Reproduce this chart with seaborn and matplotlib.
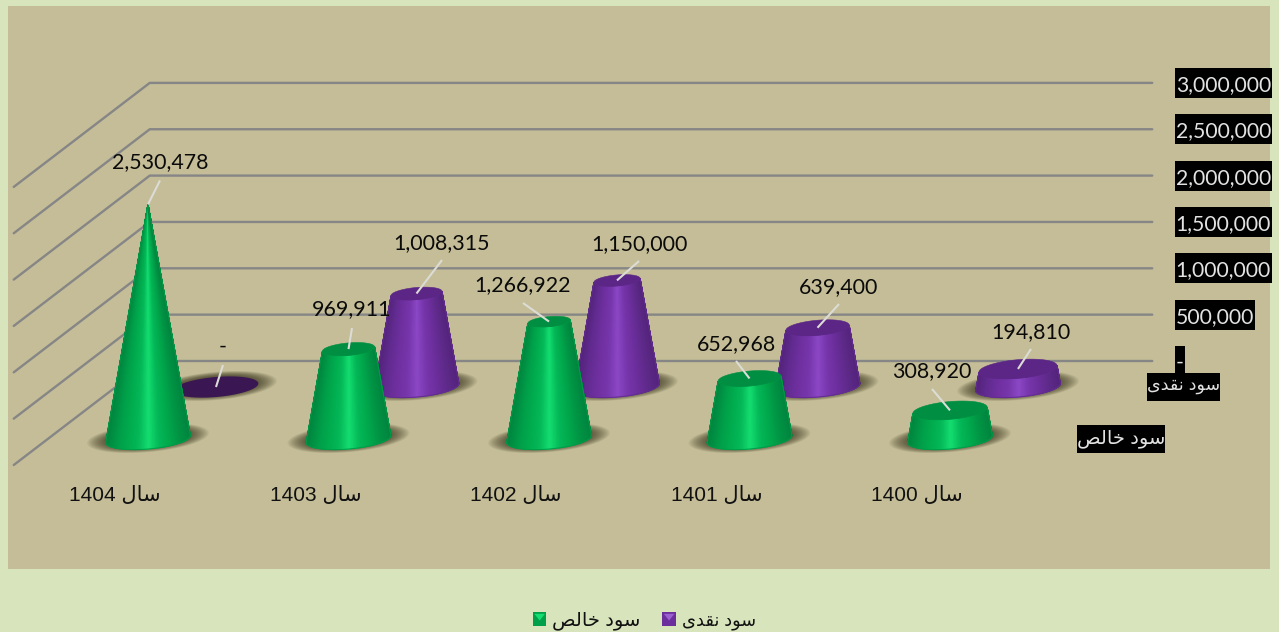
import numpy as np
import pandas as pd
import seaborn as sns
import matplotlib
matplotlib.use("Agg")
import matplotlib.pyplot as plt
from matplotlib.font_manager import FontProperties
from matplotlib.legend_handler import HandlerBase
from matplotlib.patches import Patch, Polygon, Rectangle
from matplotlib.path import Path

# ---------- data ----------
categories = ["سال 1404", "سال 1403", "سال 1402", "سال 1401", "سال 1400"]
net_profit = [2530478, 969911, 1266922, 652968, 308920]
cash_profit = [0, 1008315, 1150000, 639400, 194810]
series_names = ["سود خالص", "سود نقدی"]
value_ticks = [0, 500000, 1000000, 1500000, 2000000, 2500000, 3000000]

# ---------- layout (pixels of the projection) ----------
W, H = 1279, 632
PANEL = (8, 6, 1270, 569)  # left, top, right, bottom
PX_PER_CAT = 200.5
PX_PER_VAL = 92.7e-6
PX_DEPTH = (68.0, 52.0)
ORIGIN = (148.0, 439.0)
R_BASE, FLAT, TILT = 42.5, 10.0 / 42.5, np.radians(5.0)
SHADOW_LIFT_PX = 1.0

net_offsets = [(12, 42, 24), (3.5, 40, 21), (-26, 36.6, 18.6), (-13.5, 34.5, 17.5), (-18, 39.4, 21.4)]
cash_offsets = [(7, 40, 22), (25.5, 50.5, 33.5), (22, 36.4, 19.4), (21.5, 40.7, 23.7), (13, 37, 20)]

GREEN = dict(grad=["#00853f", "#009c48", "#00ac4e", "#04b858", "#14de70", "#04b858", "#00a84c", "#009444", "#00853f"],
             top="#008f42", zero="#005a2a")
PURPLE = dict(grad=["#54247c", "#632c92", "#7030a0", "#7736ac", "#8c48c6", "#7736ac", "#6c2e9c", "#5e2a8a", "#54247c"],
              top="#5b2685", zero="#3a1653")

LABEL_FONT = ["Lato", "DejaVu Sans"]
ARIAL_FONT = ["Liberation Sans", "DejaVu Sans"]

# ---------- Persian shaping for matplotlib's left-to-right text ----------
FORMS = {  # isolated, final, initial, medial
    "س": (0xFEB1, 0xFEB2, 0xFEB3, 0xFEB4), "خ": (0xFEA5, 0xFEA6, 0xFEA7, 0xFEA8),
    "ل": (0xFEDD, 0xFEDE, 0xFEDF, 0xFEE0), "ص": (0xFEB9, 0xFEBA, 0xFEBB, 0xFEBC),
    "ن": (0xFEE5, 0xFEE6, 0xFEE7, 0xFEE8), "ق": (0xFED5, 0xFED6, 0xFED7, 0xFED8),
    "ی": (0xFBFC, 0xFBFD, 0xFBFE, 0xFBFF), "و": (0xFEED, 0xFEEE, None, None),
    "د": (0xFEA9, 0xFEAA, None, None), "ا": (0xFE8D, 0xFE8E, None, None),
}


def shape(text):
    words = []
    for word in text.split(" "):
        if word[0] not in FORMS:
            words.append(word)
            continue
        out = []
        for i, ch in enumerate(word):
            prev_joins = i > 0 and FORMS[word[i - 1]][2] is not None
            next_joins = i < len(word) - 1 and FORMS[ch][2] is not None
            idx = {(False, False): 0, (True, False): 1, (False, True): 2, (True, True): 3}[(prev_joins, next_joins)]
            out.append(chr(FORMS[ch][idx]))
        words.append("".join(reversed(out)))
    return " ".join(reversed(words))


def fixed_box(height, pad_x, shift=0.0):
    """Box style of a fixed pixel height around a text."""
    def style(x0, y0, width, h, mutation_size):
        cy = y0 + h / 2 + shift
        xa, xb = x0 - pad_x, x0 + width + pad_x
        ya, yb = cy - height / 2, cy + height / 2
        return Path([(xa, ya), (xb, ya), (xb, yb), (xa, yb), (xa, ya)],
                    [Path.MOVETO, Path.LINETO, Path.LINETO, Path.LINETO, Path.CLOSEPOLY])
    return style


# ---------- figure ----------
sns.set_theme(style="white")
plt.rcParams["font.family"] = LABEL_FONT
fig = plt.figure(figsize=(W / 100, H / 100), dpi=100, facecolor="#D8E4BC")
ax = fig.add_axes([PANEL[0] / W, 1 - PANEL[3] / H, (PANEL[2] - PANEL[0]) / W, (PANEL[3] - PANEL[1]) / H])
ax.set_facecolor("#C4BD97")
ax.set_xlim((PANEL[0] - ORIGIN[0]) / PX_PER_CAT, (PANEL[2] - ORIGIN[0]) / PX_PER_CAT)
ax.set_ylim((ORIGIN[1] - PANEL[3]) / PX_PER_VAL, (ORIGIN[1] - PANEL[1]) / PX_PER_VAL)
ax.set_xticks([])
ax.set_yticks([])
sns.despine(ax=ax, left=True, bottom=True)


def project(cat, value, depth):
    return (np.asarray(cat) + depth * PX_DEPTH[0] / PX_PER_CAT,
            np.asarray(value) + depth * PX_DEPTH[1] / PX_PER_VAL)


def ring(cat, value, depth, radius, theta, flat=FLAT):
    """Tilted ellipse of the given pixel radius, in data units."""
    ex = radius * np.cos(theta) * np.cos(TILT) - flat * radius * np.sin(theta) * np.sin(TILT)
    ey = radius * np.cos(theta) * np.sin(TILT) + flat * radius * np.sin(theta) * np.cos(TILT)
    cx, cy = project(cat, value, depth)
    return cx + ex / PX_PER_CAT, cy + ey / PX_PER_VAL


# back wall and side wall grid lines
wall_back, wall_front, cat_l, cat_r = 1.5, -0.5, -0.5, len(categories) - 0.5
rows = []
for v in value_ticks:
    for order, (c, d) in enumerate([(cat_l, wall_front), (cat_l, wall_back), (cat_r, wall_back)]):
        x, y = project(c, v, d)
        rows.append(dict(tick=v, order=order, x=float(x), y=float(y)))
grid = pd.DataFrame(rows)
sns.lineplot(data=grid, x="x", y="y", units="tick", estimator=None, sort=False, color="#868686",
             linewidth=1.7, ax=ax, legend=False, zorder=1)
ax.set_xlabel("")
ax.set_ylabel("")

vmax = max(max(net_profit), max(cash_profit))
full = np.linspace(0, 2 * np.pi, 121)
front = np.linspace(np.pi, 2 * np.pi, 91)


def draw_series(values, depth, style, z):
    cmap = sns.blend_palette(style["grad"], n_colors=256, as_cmap=True)
    for i, v in enumerate(values):
        # soft shadow on the floor
        for grow in np.linspace(1.44, 1.0, 18):
            sx, sy = ring(i, SHADOW_LIFT_PX / PX_PER_VAL, depth, R_BASE * grow, full, flat=FLAT * 0.98)
            ax.fill(sx, sy, color="#332e1a", alpha=0.055, lw=0, zorder=z)
        if v == 0:
            ex, ey = ring(i, 0, depth, R_BASE, full)
            ax.fill(ex, ey, color=style["zero"], lw=0, zorder=z + 1)
            continue
        r_top = R_BASE * (1 - v / vmax)
        bx, by = ring(i, 0, depth, R_BASE, front)
        tx, ty = ring(i, v, depth, r_top, front)
        X = np.vstack([bx, tx])
        Y = np.vstack([by, ty])
        C = np.vstack([(1 + np.cos(front)) / 2] * 2)
        ax.pcolormesh(X, Y, C, shading="gouraud", cmap=cmap, vmin=0, vmax=1, zorder=z + 1)
        # anti-aliased silhouette
        ox = np.r_[bx, tx[::-1], bx[0]]
        oy = np.r_[by, ty[::-1], by[0]]
        ax.plot(ox, oy, color=style["grad"][1], lw=0.7, zorder=z + 1.1, solid_joinstyle="round")
        if r_top > 0.5:
            ex, ey = ring(i, v, depth, r_top, full)
            ax.fill(ex, ey, color=style["top"], lw=0.4, ec=style["top"], zorder=z + 1.2)


draw_series(cash_profit, 1, PURPLE, 3)
draw_series(net_profit, 0, GREEN, 6)


def annotate_series(values, depth, offsets):
    for i, (v, (dx, dy, dl)) in enumerate(zip(values, offsets)):
        cx, cy = project(i, v, depth)
        shift = dx / PX_PER_CAT
        ax.plot([cx, cx + shift], [cy, cy + dl / PX_PER_VAL], color="#dcdcd6", lw=1.5, zorder=10,
                solid_capstyle="butt")
        ax.text(cx + shift, cy + dy / PX_PER_VAL, f"{v:,}" if v else "-", ha="center", va="center",
                fontsize=15.4, color="#0a0a0a", family=LABEL_FONT, zorder=11)


annotate_series(cash_profit, 1, cash_offsets)
annotate_series(net_profit, 0, net_offsets)

# category labels
for i, c in enumerate(categories):
    ax.text(i - 33 / PX_PER_CAT, -56 / PX_PER_VAL, shape(c), ha="center", va="center", fontsize=15,
            color="#111111", family=ARIAL_FONT, zorder=11)

# value axis labels, black boxes like the reference
for v in value_ticks:
    x, y = project(cat_r, v, wall_back)
    ax.text(x + 23.5 / PX_PER_CAT, y - 2 / PX_PER_VAL, f"{v:,}" if v else "-", ha="left", va="center",
            fontsize=15.2, color="#e2e2e2", family=LABEL_FONT, zorder=12,
            bbox=dict(boxstyle=fixed_box(30, 1.0, shift=2.0), fc="black", ec="none"))

# depth axis labels
for name, depth, off, size in zip(series_names, [0, 1], [71, 65], [14.0, 12.6]):
    x, y = project(cat_r, 0, depth)
    ax.text(x + off / PX_PER_CAT, y, shape(name), ha="center", va="center", fontsize=size, color="#e2e2e2",
            family=ARIAL_FONT, zorder=12, bbox=dict(boxstyle=fixed_box(28, 0.0), fc="black", ec="none"))


# legend with the small pyramid swatches
class Swatch(HandlerBase):
    def create_artists(self, legend, orig, xd, yd, width, height, fontsize, trans):
        dark, light = orig.get_facecolor(), orig.light
        s = min(width, height)
        x0, y0 = xd * -1, yd * -1
        base = Rectangle((x0, y0), s, s, fc=dark, ec="none", transform=trans)
        top = Polygon([(x0 + 1, y0 + s - 1), (x0 + s - 1, y0 + s - 1), (x0 + s / 2, y0 + s / 2 - 1)],
                      fc=light, ec="none", transform=trans)
        return [base, top]


h_green = Patch(fc="#00a04a")
h_green.light = "#14de70"
h_purple = Patch(fc="#6c2e9c")
h_purple.light = "#9a60d0"
leg = fig.legend([h_green, h_purple], [shape(n) for n in series_names], ncol=2, frameon=False,
                 loc="center", bbox_to_anchor=(644.5 / W, 1 - 621 / H),
                 prop=FontProperties(family=ARIAL_FONT, size=13.5), handler_map={Patch: Swatch()},
                 handlelength=0.72, handleheight=0.72, handletextpad=0.32, columnspacing=1.15,
                 labelcolor="#111111", borderaxespad=0, borderpad=0)
leg.get_texts()[0].set_fontsize(14.0)
leg.get_texts()[1].set_fontsize(12.8)

fig.savefig("out.png", dpi=100, facecolor=fig.get_facecolor())
